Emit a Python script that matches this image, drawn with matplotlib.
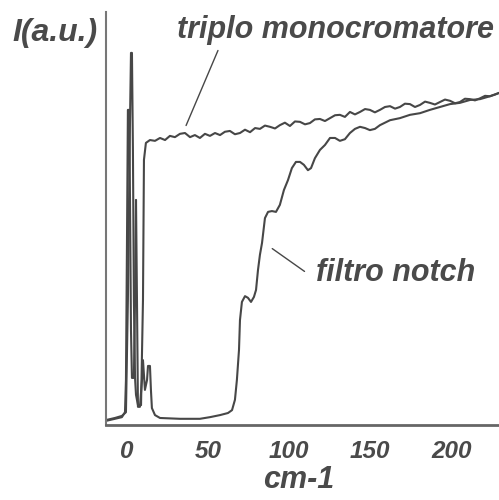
import matplotlib
matplotlib.use('Agg')
import matplotlib.pyplot as plt

# Raman spectra: wavenumber (cm-1) vs intensity (a.u., 0-100)
triplo_x = [-12.8, -7.3, -3.0, -0.5, 0.7, 2.0, 2.6, 3.2, 3.8, 4.4, 5.1, 5.7, 6.9,
            8.8, 10.0, 10.6, 11.8, 14.3, 17.4, 20.5, 23.6, 26.6, 29.7, 32.8, 35.9,
            39.0, 42.0, 45.1, 48.2, 51.3, 54.4, 57.5, 60.5, 63.6, 66.7, 69.8, 72.9,
            76.0, 79.1, 82.1, 85.2, 88.3, 91.4, 94.4, 97.5, 100.6, 103.7, 106.8,
            109.9, 112.9, 116.0, 119.1, 122.2, 125.3, 128.4, 131.4, 134.5, 137.6,
            140.7, 143.8, 146.9, 149.9, 153.0, 156.1, 159.2, 162.3, 165.4, 168.4,
            171.5, 174.6, 177.7, 180.8, 183.9, 186.9, 190.0, 193.1, 196.2, 199.3,
            202.4, 205.4, 208.5, 211.6, 214.7, 217.8, 220.9, 223.9, 227.0, 229.5]
triplo_y = [1.2, 1.7, 2.2, 3.1, 30.3, 73.8, 90.1, 90.1, 66.6, 30.3, 11.4, 7.3, 4.8,
            4.8, 30.3, 64.2, 68.3, 69.0, 68.8, 69.5, 69.0, 70.0, 69.7, 70.5, 70.7,
            69.7, 70.2, 69.5, 70.5, 70.0, 70.7, 70.2, 71.0, 71.2, 70.4, 70.7, 71.5,
            70.9, 71.9, 71.7, 72.5, 72.2, 71.8, 72.6, 73.2, 72.4, 73.5, 73.4, 72.8,
            73.1, 74.0, 74.1, 73.6, 74.3, 75.0, 75.1, 74.6, 75.8, 75.2, 75.8, 76.5,
            76.3, 75.7, 76.3, 77.0, 77.2, 76.6, 77.0, 77.8, 77.7, 77.0, 77.5, 78.3,
            78.0, 77.6, 78.2, 78.8, 78.5, 77.9, 78.2, 79.0, 78.9, 78.6, 79.1, 79.7,
            79.6, 80.0, 80.4]

notch_x = [-12.8, -7.3, -3.0, -1.1, -0.5, 0.1, 0.7, 1.4, 2.0, 2.6, 3.2, 4.4, 5.1,
           5.7, 6.3, 6.9, 8.1, 9.4, 10.0, 11.2, 12.5, 13.1, 14.3, 14.9, 15.5, 17.4,
           20.5, 32.8, 45.1, 51.3, 57.5, 62.4, 64.9, 66.7, 67.9, 69.2, 69.8, 71.0,
           72.9, 74.7, 76.6, 78.4, 79.7, 80.9, 82.1, 83.4, 85.2, 87.1, 89.5, 92.0,
           94.4, 96.9, 99.4, 101.8, 104.3, 106.8, 109.2, 111.7, 113.6, 116.0, 119.1,
           122.2, 125.3, 128.4, 131.4, 134.5, 137.6, 140.7, 143.8, 146.9, 149.9,
           153.0, 156.1, 162.3, 168.4, 174.6, 180.8, 186.9, 193.1, 199.3, 205.4,
           211.6, 217.8, 223.9, 229.5]
notch_y = [1.0, 1.5, 1.9, 3.1, 10.9, 42.4, 76.3, 76.3, 54.5, 23.0, 11.4, 11.4, 30.3,
           54.5, 30.3, 4.4, 4.4, 10.9, 15.7, 8.5, 10.9, 14.3, 14.3, 8.5, 4.1, 2.4,
           1.7, 1.5, 1.5, 1.9, 2.4, 2.9, 3.6, 6.1, 10.9, 18.2, 25.4, 29.8, 31.2,
           30.8, 29.8, 31.0, 32.7, 37.5, 41.2, 44.1, 50.1, 51.6, 51.8, 51.6, 53.3,
           56.9, 59.3, 62.2, 63.7, 63.7, 63.0, 61.7, 62.2, 64.6, 66.6, 67.8, 69.5,
           69.5, 68.8, 69.2, 70.7, 71.7, 72.2, 71.9, 71.4, 71.7, 72.6, 73.8, 74.3,
           75.1, 75.5, 76.3, 77.0, 77.7, 78.0, 78.7, 78.9, 79.6, 80.4]

x_ticks = [0, 50, 100, 150, 200]

line_col = '#474747'
text_col = '#4a4a4a'
font = dict(family='Liberation Sans', weight='bold', style='italic', color=text_col)

fig = plt.figure(figsize=(4.99, 5.0), dpi=100)
ax = fig.add_axes([106 / 499, 75 / 500, 393 / 499, 413 / 500])

ax.plot(triplo_x, triplo_y, color=line_col, lw=1.5)
ax.plot(notch_x, notch_y, color=line_col, lw=1.5)

ax.set_xlim(-12.8, 229.5)
ax.set_ylim(0, 100)

for s in ['top', 'right']:
    ax.spines[s].set_visible(False)
ax.spines['left'].set_color('#777777')
ax.spines['left'].set_linewidth(1.5)
ax.spines['left'].set_linestyle((0, (2, 1)))
ax.spines['bottom'].set_color('#666666')
ax.spines['bottom'].set_linewidth(2)

ax.set_yticks([])
ax.set_xticks(x_ticks)
ax.set_xticklabels([str(t) for t in x_ticks], fontsize=17.5, **font)
ax.tick_params(axis='x', length=0, pad=11)

# labels and leader lines
ax.text(129, 95.6, 'triplo monocromatore', ha='center', va='center', fontsize=22, **font)
ax.annotate('', xy=(35.9, 71.9), xytext=(56.9, 91.3),
            arrowprops=dict(arrowstyle='-', color=line_col, lw=1))
ax.text(166, 36.8, 'filtro notch', ha='center', va='center', fontsize=22, **font)
ax.annotate('', xy=(88.3, 43.1), xytext=(111.0, 36.8),
            arrowprops=dict(arrowstyle='-', color=line_col, lw=1))

fig.text(55 / 499, 1 - 33 / 500, 'I(a.u.)', ha='center', va='center', fontsize=23, **font)
fig.text(299 / 499, 1 - 480 / 500, 'cm-1', ha='center', va='center', fontsize=22, **font)

fig.savefig('out.png', dpi=100)
